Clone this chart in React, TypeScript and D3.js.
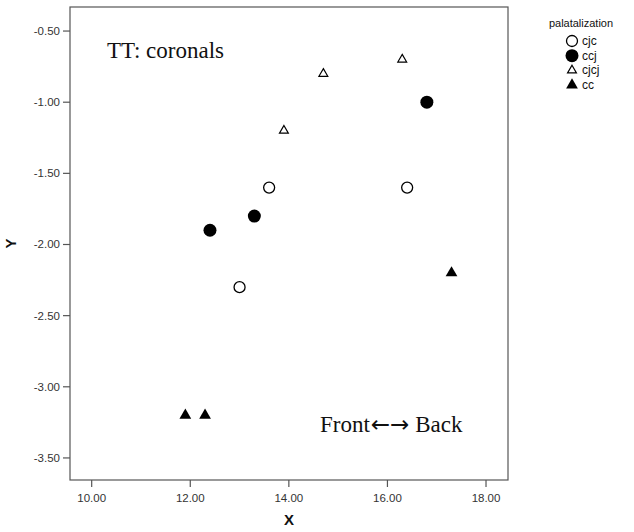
import React from "react";
import * as d3 from "d3";

const groups = ["cjc", "ccj", "cjcj", "cc"];
const cjcX = [13.6, 16.4, 13.0];
const cjcY = [-1.6, -1.6, -2.3];
const ccjX = [12.4, 13.3, 16.8];
const ccjY = [-1.9, -1.8, -1.0];
const cjcjX = [14.7, 16.3, 13.9];
const cjcjY = [-0.8, -0.7, -1.2];
const ccX = [11.9, 12.3, 17.3];
const ccY = [-3.2, -3.2, -2.2];
const xTicks = [10, 12, 14, 16, 18];
const yTicks = [-0.5, -1.0, -1.5, -2.0, -2.5, -3.0, -3.5];

const W = 634;
const H = 532;
const L = 70, R = 508, T = 7, B = 480;

const x = d3.scaleLinear().domain([9.56, 18.446]).range([L, R]);
const y = d3.scaleLinear().domain([-3.655, -0.331]).range([B, T]);

const sans = "'Liberation Sans', Arial, sans-serif";
const serif = "'Liberation Serif', 'Times New Roman', serif";

const triFilled = d3.symbol().type(d3.symbolTriangle).size(60)();
const triOpen = d3.symbol().type(d3.symbolTriangle).size(34)();

function Marker({ kind, cx, cy }: { kind: string; cx: number; cy: number }) {
  if (kind === "cjc")
    return <circle cx={cx} cy={cy} r={5.5} fill="#fff" stroke="#000" strokeWidth={1.3} />;
  if (kind === "ccj") return <circle cx={cx} cy={cy} r={6.5} fill="#000" />;
  if (kind === "cjcj")
    return (
      <path d={triOpen as string} transform={`translate(${cx},${cy})`} fill="#fff" stroke="#000" strokeWidth={1.2} />
    );
  return <path d={triFilled as string} transform={`translate(${cx},${cy})`} fill="#000" />;
}

export default function App() {
  const series = [
    { kind: "cjc", xs: cjcX, ys: cjcY },
    { kind: "ccj", xs: ccjX, ys: ccjY },
    { kind: "cjcj", xs: cjcjX, ys: cjcjY },
    { kind: "cc", xs: ccX, ys: ccY },
  ];
  return (
    <svg
      width={W}
      height={H}
      style={{ position: "absolute", left: 0, top: 0, background: "#fff" }}
    >
      <rect x={0} y={0} width={W} height={H} fill="#fff" />
      <rect x={L} y={T} width={R - L} height={B - T} fill="#fff" stroke="#555" strokeWidth={1.2} />
      {yTicks.map((t) => (
        <g key={"y" + t}>
          <line x1={L - 7} x2={L} y1={y(t)} y2={y(t)} stroke="#555" strokeWidth={1.2} />
          <text x={L - 10} y={y(t) + 4} textAnchor="end" fontFamily={sans} fontSize={11.5} fill="#333">
            {d3.format(".2f")(t).replace("−", "-")}
          </text>
        </g>
      ))}
      {xTicks.map((t) => (
        <g key={"x" + t}>
          <line x1={x(t)} x2={x(t)} y1={B} y2={B + 7} stroke="#555" strokeWidth={1.2} />
          <text x={x(t)} y={B + 22} textAnchor="middle" fontFamily={sans} fontSize={11.5} fill="#333">
            {d3.format(".2f")(t)}
          </text>
        </g>
      ))}
      <text x={(L + R) / 2} y={525} textAnchor="middle" fontFamily={sans} fontSize={15} fontWeight="bold" fill="#111">
        X
      </text>
      <text
        transform={`translate(16,${(T + B) / 2}) rotate(-90)`}
        textAnchor="middle"
        fontFamily={sans}
        fontSize={15}
        fontWeight="bold"
        fill="#111"
      >
        Y
      </text>
      <text x={107} y={58} fontFamily={serif} fontSize={23} fill="#111">
        TT: coronals
      </text>
      <text x={320} y={432} fontFamily={serif} fontSize={23} fill="#111">
        <tspan>Front</tspan>
        <tspan fontFamily="'DejaVu Sans', sans-serif" fontSize={23} dx={1}>
          ←→
        </tspan>
        <tspan> Back</tspan>
      </text>
      {series.map((s) =>
        s.xs.map((xv, i) => <Marker key={s.kind + i} kind={s.kind} cx={x(xv)} cy={y(s.ys[i])} />)
      )}
      <text x={581} y={27} textAnchor="middle" fontFamily={sans} fontSize={11} fill="#111">
        palatalization
      </text>
      {groups.map((g, i) => (
        <g key={g}>
          <Marker kind={g} cx={572} cy={41 + i * 14.7} />
          <text x={582} y={45 + i * 14.7} fontFamily={sans} fontSize={12} fill="#111">
            {g}
          </text>
        </g>
      ))}
    </svg>
  );
}
